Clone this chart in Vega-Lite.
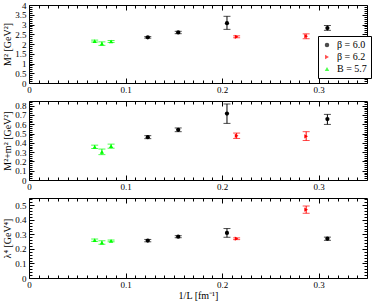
{
  "$schema": "https://vega.github.io/schema/vega-lite/v6.json",
  "padding": {"left": 2, "top": 0, "right": 4, "bottom": 2},
  "spacing": 5,
  "background": "white",
  "datasets": {
    "pts": [
      {"panel": "A", "series": "β = 6.0", "x": 0.123, "y": 2.34, "lo": 2.30, "hi": 2.38},
      {"panel": "A", "series": "β = 6.0", "x": 0.1545, "y": 2.59, "lo": 2.53, "hi": 2.65},
      {"panel": "A", "series": "β = 6.0", "x": 0.205, "y": 3.07, "lo": 2.75, "hi": 3.42},
      {"panel": "A", "series": "β = 6.0", "x": 0.309, "y": 2.82, "lo": 2.70, "hi": 2.95},
      {"panel": "A", "series": "β = 6.2", "x": 0.215, "y": 2.37, "lo": 2.32, "hi": 2.42},
      {"panel": "A", "series": "β = 6.2", "x": 0.287, "y": 2.40, "lo": 2.27, "hi": 2.52},
      {"panel": "A", "series": "B = 5.7", "x": 0.068, "y": 2.15, "lo": 2.10, "hi": 2.20},
      {"panel": "A", "series": "B = 5.7", "x": 0.0755, "y": 2.02, "lo": 1.93, "hi": 2.11},
      {"panel": "A", "series": "B = 5.7", "x": 0.085, "y": 2.13, "lo": 2.08, "hi": 2.18},
      {"panel": "B", "series": "β = 6.0", "x": 0.123, "y": 0.461, "lo": 0.445, "hi": 0.477},
      {"panel": "B", "series": "β = 6.0", "x": 0.1545, "y": 0.54, "lo": 0.52, "hi": 0.56},
      {"panel": "B", "series": "β = 6.0", "x": 0.205, "y": 0.715, "lo": 0.609, "hi": 0.818},
      {"panel": "B", "series": "β = 6.0", "x": 0.309, "y": 0.656, "lo": 0.598, "hi": 0.706},
      {"panel": "B", "series": "β = 6.2", "x": 0.215, "y": 0.476, "lo": 0.447, "hi": 0.505},
      {"panel": "B", "series": "β = 6.2", "x": 0.287, "y": 0.47, "lo": 0.425, "hi": 0.52},
      {"panel": "B", "series": "B = 5.7", "x": 0.068, "y": 0.357, "lo": 0.339, "hi": 0.375},
      {"panel": "B", "series": "B = 5.7", "x": 0.0755, "y": 0.303, "lo": 0.273, "hi": 0.333},
      {"panel": "B", "series": "B = 5.7", "x": 0.085, "y": 0.364, "lo": 0.342, "hi": 0.386},
      {"panel": "C", "series": "β = 6.0", "x": 0.123, "y": 0.257, "lo": 0.249, "hi": 0.265},
      {"panel": "C", "series": "β = 6.0", "x": 0.1545, "y": 0.284, "lo": 0.277, "hi": 0.291},
      {"panel": "C", "series": "β = 6.0", "x": 0.205, "y": 0.31, "lo": 0.280, "hi": 0.340},
      {"panel": "C", "series": "β = 6.0", "x": 0.309, "y": 0.27, "lo": 0.259, "hi": 0.281},
      {"panel": "C", "series": "β = 6.2", "x": 0.215, "y": 0.27, "lo": 0.264, "hi": 0.276},
      {"panel": "C", "series": "β = 6.2", "x": 0.287, "y": 0.47, "lo": 0.445, "hi": 0.495},
      {"panel": "C", "series": "B = 5.7", "x": 0.068, "y": 0.26, "lo": 0.252, "hi": 0.268},
      {"panel": "C", "series": "B = 5.7", "x": 0.0755, "y": 0.243, "lo": 0.232, "hi": 0.256},
      {"panel": "C", "series": "B = 5.7", "x": 0.085, "y": 0.255, "lo": 0.249, "hi": 0.261}
    ]
  },
  "data": {"name": "pts"},
  "vconcat": [
    {
      "width": 338, "height": 78,
      "transform": [{"filter": "datum.panel === 'A'"}],
      "resolve": {"axis": {"x": "independent", "y": "independent"}},
      "layer": [
        {
          "mark": {"type": "errorbar", "ticks": true, "size": 7, "thickness": 1},
          "encoding": {
            "x": {"field": "x", "type": "quantitative", "scale": {"domain": [0, 0.35], "nice": false}, "axis": {"orient": "bottom", "values": [0, 0.1, 0.2, 0.3], "format": "~g", "tickSize": -5, "labelPadding": 7, "title": null}},
            "y": {"field": "lo", "type": "quantitative", "scale": {"domain": [0, 4], "nice": false}, "axis": {"orient": "left", "values": [0, 0.5, 1, 1.5, 2, 2.5, 3, 3.5, 4], "format": "~g", "tickSize": -5, "labelPadding": 8, "title": "M² [GeV²]", "titlePadding": 2}},
            "y2": {"field": "hi"},
            "color": {"field": "series", "type": "nominal", "scale": {"domain": ["β = 6.0", "β = 6.2", "B = 5.7"], "range": ["#000000", "#ff0000", "#00ff00"]}}
          }
        },
        {
          "mark": {"type": "point", "filled": true, "opacity": 1, "size": 18},
          "encoding": {
            "x": {"field": "x", "type": "quantitative", "scale": {"domain": [0, 0.35], "nice": false}, "axis": null},
            "y": {"field": "y", "type": "quantitative", "scale": {"domain": [0, 4], "nice": false}, "axis": null},
            "color": {"field": "series", "type": "nominal", "scale": {"domain": ["β = 6.0", "β = 6.2", "B = 5.7"], "range": ["#000000", "#ff0000", "#00ff00"]}, "legend": {"title": null, "orient": "none", "legendX": 289, "legendY": 31}},
            "shape": {"field": "series", "type": "nominal", "scale": {"domain": ["β = 6.0", "β = 6.2", "B = 5.7"], "range": ["circle", "triangle-right", "triangle-up"]}, "legend": {"title": null, "orient": "none", "legendX": 289, "legendY": 31}}
          }
        },
        {
          "mark": {"type": "point", "opacity": 0},
          "encoding": {
            "x": {"field": "x", "type": "quantitative", "scale": {"domain": [0, 0.35], "nice": false}, "axis": {"orient": "bottom", "values": [0.01,0.02,0.03,0.04,0.05,0.06,0.07,0.08,0.09,0.11,0.12,0.13,0.14,0.15,0.16,0.17,0.18,0.19,0.21,0.22,0.23,0.24,0.25,0.26,0.27,0.28,0.29,0.31,0.32,0.33,0.34], "labels": false, "tickSize": -3, "title": null}},
            "y": {"field": "y", "type": "quantitative", "scale": {"domain": [0, 4], "nice": false}, "axis": {"orient": "left", "values": [0.1,0.2,0.3,0.4,0.6,0.7,0.8,0.9,1.1,1.2,1.3,1.4,1.6,1.7,1.8,1.9,2.1,2.2,2.3,2.4,2.6,2.7,2.8,2.9,3.1,3.2,3.3,3.4,3.6,3.7,3.8,3.9], "labels": false, "tickSize": -3, "title": null}}
          }
        },
        {
          "mark": {"type": "point", "opacity": 0},
          "encoding": {
            "x": {"field": "x", "type": "quantitative", "scale": {"domain": [0, 0.35], "nice": false}, "axis": {"orient": "top", "values": [0, 0.1, 0.2, 0.3], "labels": false, "tickSize": -5, "title": null}},
            "y": {"field": "y", "type": "quantitative", "scale": {"domain": [0, 4], "nice": false}, "axis": {"orient": "right", "values": [0, 0.5, 1, 1.5, 2, 2.5, 3, 3.5, 4], "labels": false, "tickSize": -5, "title": null}}
          }
        },
        {
          "mark": {"type": "point", "opacity": 0},
          "encoding": {
            "x": {"field": "x", "type": "quantitative", "scale": {"domain": [0, 0.35], "nice": false}, "axis": {"orient": "top", "values": [0.01,0.02,0.03,0.04,0.05,0.06,0.07,0.08,0.09,0.11,0.12,0.13,0.14,0.15,0.16,0.17,0.18,0.19,0.21,0.22,0.23,0.24,0.25,0.26,0.27,0.28,0.29,0.31,0.32,0.33,0.34], "labels": false, "tickSize": -3, "title": null}},
            "y": {"field": "y", "type": "quantitative", "scale": {"domain": [0, 4], "nice": false}, "axis": {"orient": "right", "values": [0.1,0.2,0.3,0.4,0.6,0.7,0.8,0.9,1.1,1.2,1.3,1.4,1.6,1.7,1.8,1.9,2.1,2.2,2.3,2.4,2.6,2.7,2.8,2.9,3.1,3.2,3.3,3.4,3.6,3.7,3.8,3.9], "labels": false, "tickSize": -3, "title": null}}
          }
        }
      ]
    },
    {
      "width": 338, "height": 79,
      "transform": [{"filter": "datum.panel === 'B'"}],
      "resolve": {"axis": {"x": "independent", "y": "independent"}},
      "layer": [
        {
          "mark": {"type": "errorbar", "ticks": true, "size": 7, "thickness": 1},
          "encoding": {
            "x": {"field": "x", "type": "quantitative", "scale": {"domain": [0, 0.35], "nice": false}, "axis": {"orient": "bottom", "values": [0, 0.1, 0.2, 0.3], "format": "~g", "tickSize": -5, "labelPadding": 7, "title": null}},
            "y": {"field": "lo", "type": "quantitative", "scale": {"domain": [0, 0.85], "nice": false}, "axis": {"orient": "left", "values": [0, 0.1, 0.2, 0.3, 0.4, 0.5, 0.6, 0.7, 0.8], "format": "~g", "tickSize": -5, "labelPadding": 8, "title": "M²+m² [GeV²]", "titlePadding": 2}},
            "y2": {"field": "hi"},
            "color": {"field": "series", "type": "nominal", "scale": {"domain": ["β = 6.0", "β = 6.2", "B = 5.7"], "range": ["#000000", "#ff0000", "#00ff00"]}, "legend": null}
          }
        },
        {
          "mark": {"type": "point", "filled": true, "opacity": 1, "size": 18},
          "encoding": {
            "x": {"field": "x", "type": "quantitative", "scale": {"domain": [0, 0.35], "nice": false}, "axis": null},
            "y": {"field": "y", "type": "quantitative", "scale": {"domain": [0, 0.85], "nice": false}, "axis": null},
            "color": {"field": "series", "type": "nominal", "scale": {"domain": ["β = 6.0", "β = 6.2", "B = 5.7"], "range": ["#000000", "#ff0000", "#00ff00"]}, "legend": null},
            "shape": {"field": "series", "type": "nominal", "scale": {"domain": ["β = 6.0", "β = 6.2", "B = 5.7"], "range": ["circle", "triangle-right", "triangle-up"]}, "legend": null}
          }
        },
        {
          "mark": {"type": "point", "opacity": 0},
          "encoding": {
            "x": {"field": "x", "type": "quantitative", "scale": {"domain": [0, 0.35], "nice": false}, "axis": {"orient": "bottom", "values": [0.01,0.02,0.03,0.04,0.05,0.06,0.07,0.08,0.09,0.11,0.12,0.13,0.14,0.15,0.16,0.17,0.18,0.19,0.21,0.22,0.23,0.24,0.25,0.26,0.27,0.28,0.29,0.31,0.32,0.33,0.34], "labels": false, "tickSize": -3, "title": null}},
            "y": {"field": "y", "type": "quantitative", "scale": {"domain": [0, 0.85], "nice": false}, "axis": {"orient": "left", "values": [0.02,0.04,0.06,0.08,0.12,0.14,0.16,0.18,0.22,0.24,0.26,0.28,0.32,0.34,0.36,0.38,0.42,0.44,0.46,0.48,0.52,0.54,0.56,0.58,0.62,0.64,0.66,0.68,0.72,0.74,0.76,0.78,0.82,0.84], "labels": false, "tickSize": -3, "title": null}}
          }
        },
        {
          "mark": {"type": "point", "opacity": 0},
          "encoding": {
            "x": {"field": "x", "type": "quantitative", "scale": {"domain": [0, 0.35], "nice": false}, "axis": {"orient": "top", "values": [0, 0.1, 0.2, 0.3], "labels": false, "tickSize": -5, "title": null}},
            "y": {"field": "y", "type": "quantitative", "scale": {"domain": [0, 0.85], "nice": false}, "axis": {"orient": "right", "values": [0, 0.1, 0.2, 0.3, 0.4, 0.5, 0.6, 0.7, 0.8], "labels": false, "tickSize": -5, "title": null}}
          }
        },
        {
          "mark": {"type": "point", "opacity": 0},
          "encoding": {
            "x": {"field": "x", "type": "quantitative", "scale": {"domain": [0, 0.35], "nice": false}, "axis": {"orient": "top", "values": [0.01,0.02,0.03,0.04,0.05,0.06,0.07,0.08,0.09,0.11,0.12,0.13,0.14,0.15,0.16,0.17,0.18,0.19,0.21,0.22,0.23,0.24,0.25,0.26,0.27,0.28,0.29,0.31,0.32,0.33,0.34], "labels": false, "tickSize": -3, "title": null}},
            "y": {"field": "y", "type": "quantitative", "scale": {"domain": [0, 0.85], "nice": false}, "axis": {"orient": "right", "values": [0.02,0.04,0.06,0.08,0.12,0.14,0.16,0.18,0.22,0.24,0.26,0.28,0.32,0.34,0.36,0.38,0.42,0.44,0.46,0.48,0.52,0.54,0.56,0.58,0.62,0.64,0.66,0.68,0.72,0.74,0.76,0.78,0.82,0.84], "labels": false, "tickSize": -3, "title": null}}
          }
        }
      ]
    },
    {
      "width": 338, "height": 80,
      "transform": [{"filter": "datum.panel === 'C'"}],
      "resolve": {"axis": {"x": "independent", "y": "independent"}},
      "layer": [
        {
          "mark": {"type": "errorbar", "ticks": true, "size": 7, "thickness": 1},
          "encoding": {
            "x": {"field": "x", "type": "quantitative", "scale": {"domain": [0, 0.35], "nice": false}, "axis": {"orient": "bottom", "values": [0, 0.1, 0.2, 0.3], "format": "~g", "tickSize": -5, "labelPadding": 7, "title": "1/L [fm⁻¹]", "titlePadding": 1}},
            "y": {"field": "lo", "type": "quantitative", "scale": {"domain": [0, 0.55], "nice": false}, "axis": {"orient": "left", "values": [0, 0.1, 0.2, 0.3, 0.4, 0.5], "format": "~g", "tickSize": -5, "labelPadding": 8, "title": "λ⁴ [GeV⁴]", "titlePadding": 2}},
            "y2": {"field": "hi"},
            "color": {"field": "series", "type": "nominal", "scale": {"domain": ["β = 6.0", "β = 6.2", "B = 5.7"], "range": ["#000000", "#ff0000", "#00ff00"]}, "legend": null}
          }
        },
        {
          "mark": {"type": "point", "filled": true, "opacity": 1, "size": 18},
          "encoding": {
            "x": {"field": "x", "type": "quantitative", "scale": {"domain": [0, 0.35], "nice": false}, "axis": null},
            "y": {"field": "y", "type": "quantitative", "scale": {"domain": [0, 0.55], "nice": false}, "axis": null},
            "color": {"field": "series", "type": "nominal", "scale": {"domain": ["β = 6.0", "β = 6.2", "B = 5.7"], "range": ["#000000", "#ff0000", "#00ff00"]}, "legend": null},
            "shape": {"field": "series", "type": "nominal", "scale": {"domain": ["β = 6.0", "β = 6.2", "B = 5.7"], "range": ["circle", "triangle-right", "triangle-up"]}, "legend": null}
          }
        },
        {
          "mark": {"type": "point", "opacity": 0},
          "encoding": {
            "x": {"field": "x", "type": "quantitative", "scale": {"domain": [0, 0.35], "nice": false}, "axis": {"orient": "bottom", "values": [0.01,0.02,0.03,0.04,0.05,0.06,0.07,0.08,0.09,0.11,0.12,0.13,0.14,0.15,0.16,0.17,0.18,0.19,0.21,0.22,0.23,0.24,0.25,0.26,0.27,0.28,0.29,0.31,0.32,0.33,0.34], "labels": false, "tickSize": -3, "title": null}},
            "y": {"field": "y", "type": "quantitative", "scale": {"domain": [0, 0.55], "nice": false}, "axis": {"orient": "left", "values": [0.02,0.04,0.06,0.08,0.12,0.14,0.16,0.18,0.22,0.24,0.26,0.28,0.32,0.34,0.36,0.38,0.42,0.44,0.46,0.48,0.52,0.54], "labels": false, "tickSize": -3, "title": null}}
          }
        },
        {
          "mark": {"type": "point", "opacity": 0},
          "encoding": {
            "x": {"field": "x", "type": "quantitative", "scale": {"domain": [0, 0.35], "nice": false}, "axis": {"orient": "top", "values": [0, 0.1, 0.2, 0.3], "labels": false, "tickSize": -5, "title": null}},
            "y": {"field": "y", "type": "quantitative", "scale": {"domain": [0, 0.55], "nice": false}, "axis": {"orient": "right", "values": [0, 0.1, 0.2, 0.3, 0.4, 0.5], "labels": false, "tickSize": -5, "title": null}}
          }
        },
        {
          "mark": {"type": "point", "opacity": 0},
          "encoding": {
            "x": {"field": "x", "type": "quantitative", "scale": {"domain": [0, 0.35], "nice": false}, "axis": {"orient": "top", "values": [0.01,0.02,0.03,0.04,0.05,0.06,0.07,0.08,0.09,0.11,0.12,0.13,0.14,0.15,0.16,0.17,0.18,0.19,0.21,0.22,0.23,0.24,0.25,0.26,0.27,0.28,0.29,0.31,0.32,0.33,0.34], "labels": false, "tickSize": -3, "title": null}},
            "y": {"field": "y", "type": "quantitative", "scale": {"domain": [0, 0.55], "nice": false}, "axis": {"orient": "right", "values": [0.02,0.04,0.06,0.08,0.12,0.14,0.16,0.18,0.22,0.24,0.26,0.28,0.32,0.34,0.36,0.38,0.42,0.44,0.46,0.48,0.52,0.54], "labels": false, "tickSize": -3, "title": null}}
          }
        }
      ]
    }
  ],
  "config": {
    "font": "Liberation Serif",
    "view": {"stroke": "#000000", "strokeWidth": 1},
    "axis": {"domain": false, "grid": false, "labelOverlap": false, "labelFlush": false, "tickColor": "#000000", "tickWidth": 1, "labelFont": "Liberation Serif", "titleFont": "Liberation Serif", "labelFontSize": 9, "titleFontSize": 10, "titleFontWeight": "normal", "labelColor": "#000000", "titleColor": "#000000"},
    "legend": {"labelFont": "Liberation Serif", "labelFontSize": 10, "labelColor": "#000000", "strokeColor": "#000000", "fillColor": "#ffffff", "padding": 4, "rowPadding": 2, "symbolSize": 20, "labelOffset": 5, "symbolStrokeWidth": 0}
  }
}
